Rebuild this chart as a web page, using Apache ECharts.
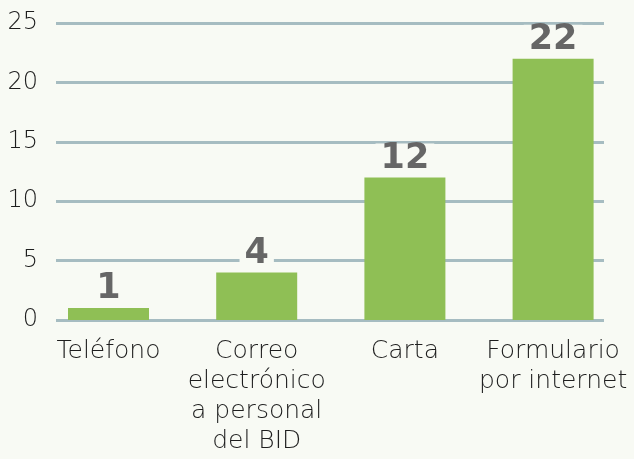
<!DOCTYPE html>
<html>
<head>
<meta charset="utf-8">
<script src="https://cdn.jsdelivr.net/npm/echarts@6/dist/echarts.min.js"></script>
<style>
  html, body { margin: 0; padding: 0; background: #f8faf4; }
  #chart { width: 634px; height: 459px; }
</style>
</head>
<body>
<div id="chart"></div>
<script>
// Canales de contacto y número de casos
const categories = ['Teléfono', 'Correo\nelectrónico\na personal\ndel BID', 'Carta', 'Formulario\npor internet'];
const values = [1, 4, 12, 22];
const yTicks = { min: 0, max: 25, interval: 5 };

const bg = '#f8faf4';
const chart = echarts.init(document.getElementById('chart'), null, { renderer: 'canvas' });

chart.setOption({
  backgroundColor: bg,
  animation: false,
  grid: [
    // grid for the horizontal rules and the value labels
    { left: 56, right: 30, top: 23, bottom: 139 },
    // grid for the bars and category labels
    { left: 34.4, right: 6.8, top: 23, bottom: 139 }
  ],
  xAxis: [
    { gridIndex: 0, type: 'value', show: false, min: 0, max: 1 },
    {
      gridIndex: 1, type: 'category', data: categories,
      axisLine: { show: false }, axisTick: { show: false },
      axisLabel: {
        margin: 16, color: '#1e1e1e', fontSize: 25, lineHeight: 30,
        fontFamily: 'DejaVu Sans', fontWeight: 200, interval: 0
      }
    }
  ],
  yAxis: [
    {
      gridIndex: 0, type: 'value', min: yTicks.min, max: yTicks.max, interval: yTicks.interval,
      axisLine: { show: false }, axisTick: { show: false },
      splitLine: { show: true, lineStyle: { color: '#a6bcc1', width: 3 } },
      axisLabel: {
        margin: 18, color: '#1e1e1e', fontSize: 24,
        fontFamily: 'DejaVu Sans', fontWeight: 200
      }
    },
    {
      gridIndex: 1, type: 'value', min: yTicks.min, max: yTicks.max, interval: yTicks.interval,
      show: false, splitLine: { show: false }
    }
  ],
  series: [{
    type: 'bar',
    xAxisIndex: 1,
    yAxisIndex: 1,
    data: values,
    barWidth: 81,
    itemStyle: { color: '#8fbf55' },
    label: {
      show: true,
      position: 'top',
      distance: 4,
      color: '#666666',
      fontFamily: 'DejaVu Sans',
      fontWeight: 'bold',
      fontSize: 35,
      lineHeight: 30,
      backgroundColor: bg,
      padding: [0, 5, 0, 5]
    }
  }]
});
</script>
</body>
</html>
